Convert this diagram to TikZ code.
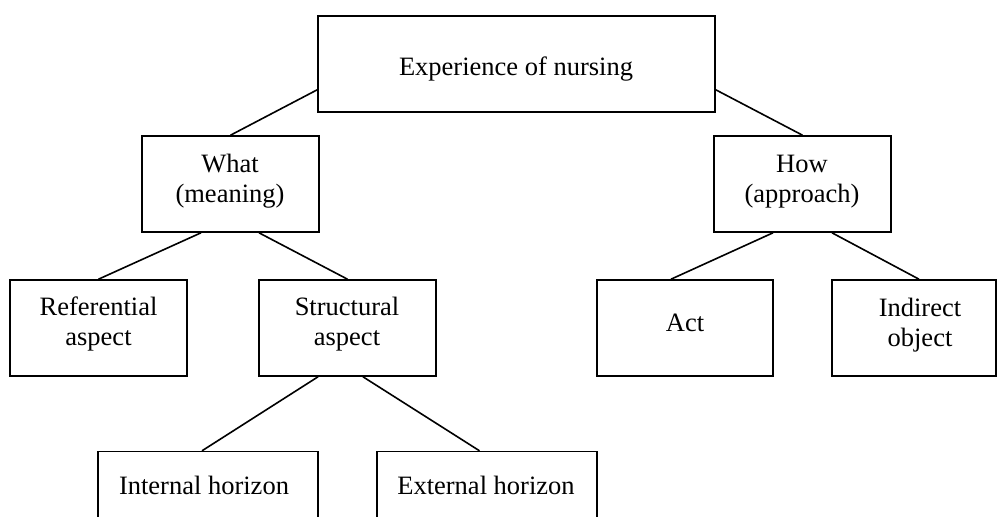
\documentclass[tikz,border=0pt]{standalone}
\usepackage{fontspec}
\setmainfont{Liberation Serif}
\begin{document}
\begin{tikzpicture}[x=1pt,y=-1pt,
  box/.style={draw, line width=1.6pt, rectangle, inner sep=0pt, minimum height=96pt},
  lbl/.style={font=\fontsize{26.5}{30}\selectfont, align=center, anchor=base, inner sep=0pt},
  link/.style={line width=1.6pt}]
\useasboundingbox (0,0) rectangle (997,517);
% boxes
\node[box, minimum width=397pt] (top) at (516.5,64) {};
\node[box, minimum width=177pt] (what) at (230.5,184) {};
\node[box, minimum width=177pt] (how) at (802.5,184) {};
\node[box, minimum width=177pt] (ref) at (98.5,328) {};
\node[box, minimum width=177pt] (struct) at (347.5,328) {};
\node[box, minimum width=176pt] (act) at (685,328) {};
\node[box, minimum width=164pt] (ind) at (914,328) {};
\node[box, minimum width=220pt] (int) at (208,499.6) {};
\node[box, minimum width=220pt] (ext) at (487,499.6) {};
% texts (base = baseline of last line)
\node[lbl] (ttop) at (516,75) {Experience of nursing};
\node[lbl] (twhat) at (230,202) {What\\(meaning)};
\node[lbl] (thow) at (802,202) {How\\(approach)};
\node[lbl] (tref) at (98.5,345.5) {Referential\\aspect};
\node[lbl] (tstruct) at (347,345.5) {Structural\\aspect};
\node[lbl] (tact) at (685,331.7) {Act};
\node[lbl] (tind) at (920,346) {Indirect\\object};
\node[lbl] (tint) at (204,494) {Internal horizon};
\node[lbl] (text) at (486,494) {External horizon};
% connectors
\draw[link] ([yshift=23pt]top.south west) -- (what.north);
\draw[link] ([yshift=23pt]top.south east) -- (how.north);
\draw[link] ([xshift=-29.5pt]what.south) -- (ref.north);
\draw[link] ([xshift=28.5pt]what.south) -- (struct.north);
\draw[link] ([xshift=-29.5pt]how.south) -- ([xshift=-14pt]act.north);
\draw[link] ([xshift=29.5pt]how.south) -- ([xshift=5pt]ind.north);
\draw[link] ([xshift=-29.5pt]struct.south) -- ([xshift=-6pt]int.north);
\draw[link] ([xshift=15.5pt]struct.south) -- ([xshift=-7.5pt]ext.north);
\end{tikzpicture}
\end{document}
